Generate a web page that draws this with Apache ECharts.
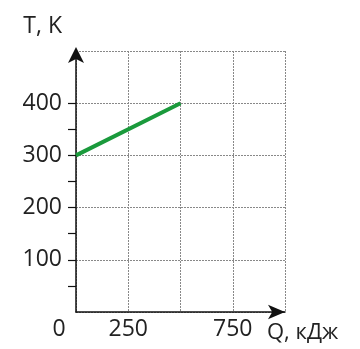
<!DOCTYPE html>
<html><head><meta charset="utf-8">
<script src="https://cdn.jsdelivr.net/npm/echarts@6/dist/echarts.min.js"></script>
<style>html,body{margin:0;padding:0;background:#fff}#c{width:360px;height:349px}</style>
</head><body><div id="c"></div>
<script>
const xLabels = ['0', '250', '750'];
const yTicks = [50, 100, 150, 200, 250, 300, 350, 400];
const yLabels = [100, 200, 300, 400];
const heatQ = [0, 500];
const tempT = [300, 400];

const font = '"Open Sans", sans-serif';
const grid = { color: '#888', type: [2, 1], width: 1 };
const chart = echarts.init(document.getElementById('c'));
chart.setOption({
  animation: false,
  grid: { left: 76, right: 75, top: 51, bottom: 37 },
  xAxis: {
    type: 'value', min: 0, max: 1000, interval: 250,
    name: 'Q, кДж', nameLocation: 'end', nameGap: 0,
    nameTextStyle: { fontFamily: font, fontSize: 22, color: '#222', align: 'left', verticalAlign: 'top', padding: [10, 0, 0, -18] },
    axisLine: { lineStyle: { color: '#111', width: 1.5 }, symbol: ['none', 'arrow'], symbolSize: [11, 17], symbolOffset: [0, 0] },
    axisTick: { show: false },
    axisLabel: {
      margin: 6, fontFamily: font, fontSize: 23, color: '#222',
      formatter: v => {
        const s = String(v);
        if (!xLabels.includes(s)) return '';
        return v === 0 ? '{z|0}' : s;
      },
      rich: { z: { fontFamily: font, fontSize: 23, color: '#222', padding: [0, 34, 0, 0] } }
    },
    splitLine: { show: true, lineStyle: grid }
  },
  yAxis: [{
    type: 'value', min: 0, max: 500, interval: 100,
    name: 'T, K', nameLocation: 'end', nameGap: 0,
    nameTextStyle: { fontFamily: font, fontSize: 23, color: '#222', align: 'right', verticalAlign: 'bottom', padding: [0, 14, 13, 0] },
    axisLine: { lineStyle: { color: '#111', width: 1.5 }, symbol: ['none', 'arrow'], symbolSize: [12, 16], symbolOffset: [0, 4] },
    axisTick: { show: false },
    axisLabel: {
      margin: 14, fontFamily: font, fontSize: 23, color: '#222',
      formatter: v => yLabels.includes(v) ? String(v) : ''
    },
    splitLine: { show: true, lineStyle: grid }
  }, {
    type: 'value', min: 0, max: 500, interval: 50, position: 'left',
    axisLine: { show: false },
    axisTick: { show: true, length: 8, lineStyle: { color: '#111', width: 1.2 }, customValues: yTicks },
    axisLabel: { show: false },
    splitLine: { show: false }
  }],
  series: [{
    type: 'line',
    data: heatQ.map((q, i) => [q, tempT[i]]),
    symbol: 'none',
    lineStyle: { color: '#1a9a3c', width: 4 }
  }]
});
</script></body></html>
